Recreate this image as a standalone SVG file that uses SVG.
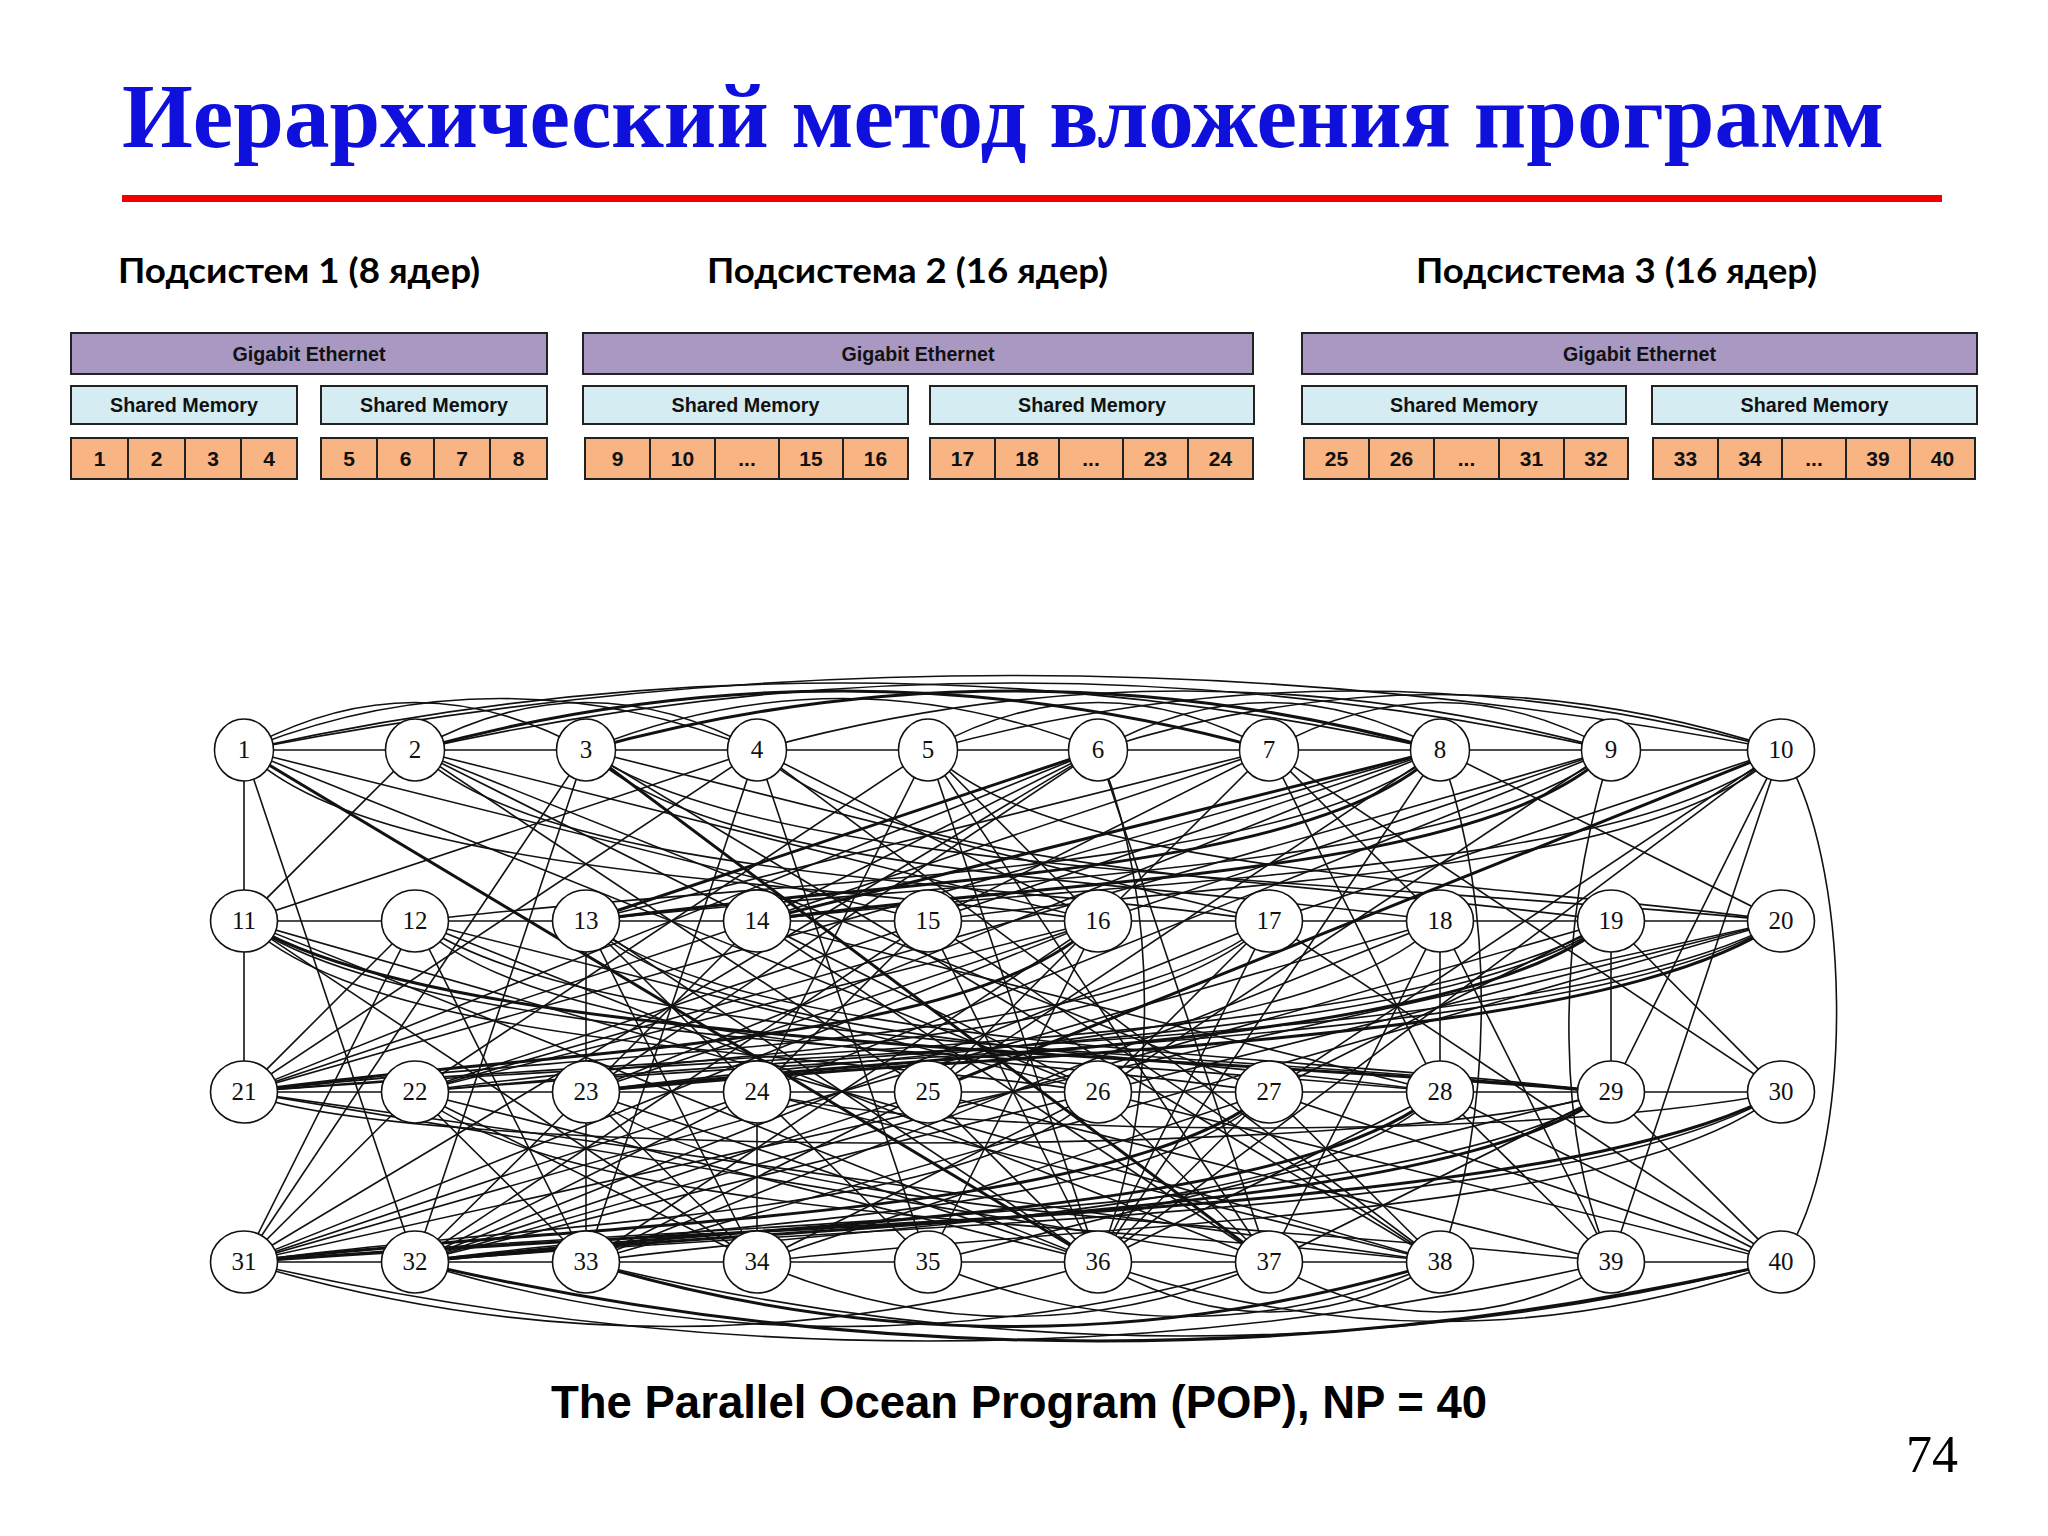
<svg xmlns="http://www.w3.org/2000/svg" width="2048" height="1536" viewBox="0 0 2048 1536">
<defs>
<style>
.title{font-family:"Liberation Serif","Times New Roman",serif;font-weight:bold;font-size:91px;fill:#1010DD}
.hdr{font-family:Lato,"Open Sans","Liberation Sans",sans-serif;font-weight:bold;font-size:35px;fill:#000}
.ge{fill:#A898C2;stroke:#222;stroke-width:2}
.sm{fill:#D5EDF2;stroke:#222;stroke-width:2}
.cell{fill:#F8B483;stroke:#222;stroke-width:2}
.bt{font-family:"Liberation Sans",Arial,sans-serif;font-weight:bold;font-size:20px;fill:#111;text-anchor:middle}
.ct{font-family:"Liberation Sans",Arial,sans-serif;font-weight:bold;font-size:21px;fill:#111;text-anchor:middle}
.e{fill:none;stroke:#111;stroke-width:1.6}
.t{fill:none;stroke:#111;stroke-width:3}
.n{fill:#fff;stroke:#111;stroke-width:1.6}
.nl{font-family:"Liberation Serif","Times New Roman",serif;font-size:25px;fill:#111;text-anchor:middle}
.cap{font-family:"Liberation Sans",Arial,sans-serif;font-weight:bold;font-size:46px;fill:#000}
.pg{font-family:"Liberation Serif","Times New Roman",serif;font-size:52px;fill:#000}
</style>
</defs>
<rect width="2048" height="1536" fill="#fff"/>

<g id="header">
<text class="title" x="122" y="147" textLength="1762" lengthAdjust="spacingAndGlyphs">Иерархический метод вложения программ</text>
<rect x="122" y="195" width="1820" height="7" fill="#F00000"/>
</g>

<g id="subsystem1">
<text class="hdr" x="118" y="283" textLength="362" lengthAdjust="spacingAndGlyphs">Подсистем 1 (8 ядер)</text>
<rect class="ge" x="71" y="333" width="476" height="41"/>
<text class="bt" x="309" y="361" textLength="153" lengthAdjust="spacingAndGlyphs">Gigabit Ethernet</text>
<rect class="sm" x="71" y="386" width="226" height="38"/>
<text class="bt" x="184" y="412" textLength="148" lengthAdjust="spacingAndGlyphs">Shared Memory</text>
<rect class="sm" x="321" y="386" width="226" height="38"/>
<text class="bt" x="434" y="412" textLength="148" lengthAdjust="spacingAndGlyphs">Shared Memory</text>
<rect class="cell" x="71" y="438" width="57" height="41"/><text class="ct" x="99.5" y="466">1</text>
<rect class="cell" x="128" y="438" width="57" height="41"/><text class="ct" x="156.5" y="466">2</text>
<rect class="cell" x="185" y="438" width="56" height="41"/><text class="ct" x="213" y="466">3</text>
<rect class="cell" x="241" y="438" width="56" height="41"/><text class="ct" x="269" y="466">4</text>
<rect class="cell" x="321" y="438" width="56" height="41"/><text class="ct" x="349" y="466">5</text>
<rect class="cell" x="377" y="438" width="57" height="41"/><text class="ct" x="405.5" y="466">6</text>
<rect class="cell" x="434" y="438" width="56" height="41"/><text class="ct" x="462" y="466">7</text>
<rect class="cell" x="490" y="438" width="57" height="41"/><text class="ct" x="518.5" y="466">8</text>
</g>

<g id="subsystem2">
<text class="hdr" x="707" y="283" textLength="401" lengthAdjust="spacingAndGlyphs">Подсистема 2 (16 ядер)</text>
<rect class="ge" x="583" y="333" width="670" height="41"/>
<text class="bt" x="918" y="361" textLength="153" lengthAdjust="spacingAndGlyphs">Gigabit Ethernet</text>
<rect class="sm" x="583" y="386" width="325" height="38"/>
<text class="bt" x="745.5" y="412" textLength="148" lengthAdjust="spacingAndGlyphs">Shared Memory</text>
<rect class="sm" x="930" y="386" width="324" height="38"/>
<text class="bt" x="1092" y="412" textLength="148" lengthAdjust="spacingAndGlyphs">Shared Memory</text>
<rect class="cell" x="585" y="438" width="65" height="41"/><text class="ct" x="617.5" y="466">9</text>
<rect class="cell" x="650" y="438" width="65" height="41"/><text class="ct" x="682.5" y="466">10</text>
<rect class="cell" x="715" y="438" width="64" height="41"/><text class="ct" x="747" y="466">...</text>
<rect class="cell" x="779" y="438" width="64" height="41"/><text class="ct" x="811" y="466">15</text>
<rect class="cell" x="843" y="438" width="65" height="41"/><text class="ct" x="875.5" y="466">16</text>
<rect class="cell" x="930" y="438" width="65" height="41"/><text class="ct" x="962.5" y="466">17</text>
<rect class="cell" x="995" y="438" width="64" height="41"/><text class="ct" x="1027" y="466">18</text>
<rect class="cell" x="1059" y="438" width="64" height="41"/><text class="ct" x="1091" y="466">...</text>
<rect class="cell" x="1123" y="438" width="65" height="41"/><text class="ct" x="1155.5" y="466">23</text>
<rect class="cell" x="1188" y="438" width="65" height="41"/><text class="ct" x="1220.5" y="466">24</text>
</g>

<g id="subsystem3">
<text class="hdr" x="1416" y="283" textLength="401" lengthAdjust="spacingAndGlyphs">Подсистема 3 (16 ядер)</text>
<rect class="ge" x="1302" y="333" width="675" height="41"/>
<text class="bt" x="1639.5" y="361" textLength="153" lengthAdjust="spacingAndGlyphs">Gigabit Ethernet</text>
<rect class="sm" x="1302" y="386" width="324" height="38"/>
<text class="bt" x="1464" y="412" textLength="148" lengthAdjust="spacingAndGlyphs">Shared Memory</text>
<rect class="sm" x="1652" y="386" width="325" height="38"/>
<text class="bt" x="1814.5" y="412" textLength="148" lengthAdjust="spacingAndGlyphs">Shared Memory</text>
<rect class="cell" x="1304" y="438" width="65" height="41"/><text class="ct" x="1336.5" y="466">25</text>
<rect class="cell" x="1369" y="438" width="65" height="41"/><text class="ct" x="1401.5" y="466">26</text>
<rect class="cell" x="1434" y="438" width="65" height="41"/><text class="ct" x="1466.5" y="466">...</text>
<rect class="cell" x="1499" y="438" width="65" height="41"/><text class="ct" x="1531.5" y="466">31</text>
<rect class="cell" x="1564" y="438" width="64" height="41"/><text class="ct" x="1596" y="466">32</text>
<rect class="cell" x="1653" y="438" width="65" height="41"/><text class="ct" x="1685.5" y="466">33</text>
<rect class="cell" x="1718" y="438" width="64" height="41"/><text class="ct" x="1750" y="466">34</text>
<rect class="cell" x="1782" y="438" width="64" height="41"/><text class="ct" x="1814" y="466">...</text>
<rect class="cell" x="1846" y="438" width="64" height="41"/><text class="ct" x="1878" y="466">39</text>
<rect class="cell" x="1910" y="438" width="65" height="41"/><text class="ct" x="1942.5" y="466">40</text>
</g>

<g id="edges">
<path class="e" d="M244 750 L1781 750"/>
<path class="e" d="M244 921 L1781 921"/>
<path class="e" d="M244 1092 L1781 1092"/>
<path class="e" d="M244 1262 L1440 1262"/>
<path class="e" d="M1611 1262 L1781 1262"/>
<path class="e" d="M244 750 L244 1092"/>
<path class="e" d="M586 921 L586 1262"/>
<path class="e" d="M757 1092 L757 1262"/>
<path class="e" d="M1440 921 L1440 1092"/>
<path class="e" d="M1611 921 L1611 1092"/>
<path class="e" d="M244 750 Q415 655 586 750"/>
<path class="e" d="M244 750 Q500 647 757 750"/>
<path class="e" d="M244 750 Q842 616 1440 750"/>
<path class="e" d="M244 750 Q1012 601 1781 750"/>
<path class="e" d="M415 750 Q586 655 757 750"/>
<path class="t" d="M415 750 Q842 632 1269 750"/>
<path class="e" d="M415 750 Q1013 616 1611 750"/>
<path class="e" d="M586 750 Q842 647 1098 750"/>
<path class="t" d="M586 750 Q1013 632 1440 750"/>
<path class="e" d="M757 750 Q1184 632 1611 750"/>
<path class="e" d="M928 750 Q1098 655 1269 750"/>
<path class="e" d="M928 750 Q1354 632 1781 750"/>
<path class="e" d="M1098 750 Q1269 655 1440 750"/>
<path class="e" d="M1098 750 Q1440 639 1781 750"/>
<path class="e" d="M1269 750 Q1440 655 1611 750"/>
<path class="e" d="M244 1262 Q671 1391 1098 1262"/>
<path class="e" d="M244 1262 Q928 1420 1611 1262"/>
<path class="e" d="M415 1262 Q842 1391 1269 1262"/>
<path class="t" d="M415 1262 Q1098 1420 1781 1262"/>
<path class="t" d="M586 1262 Q1013 1391 1440 1262"/>
<path class="e" d="M586 1262 Q1184 1410 1781 1262"/>
<path class="e" d="M757 1262 Q1013 1371 1269 1262"/>
<path class="e" d="M928 1262 Q1184 1371 1440 1262"/>
<path class="e" d="M1098 1262 Q1269 1362 1440 1262"/>
<path class="e" d="M1098 1262 Q1440 1381 1781 1262"/>
<path class="e" d="M1269 1262 Q1440 1362 1611 1262"/>
<path class="e" d="M244 750 L928 921"/>
<path class="e" d="M244 750 L415 1262"/>
<path class="t" d="M244 750 L1098 1262"/>
<path class="e" d="M244 750 L1098 1092"/>
<path class="e" d="M415 750 L244 921"/>
<path class="e" d="M415 750 L757 921"/>
<path class="e" d="M415 750 L1098 921"/>
<path class="e" d="M415 750 L928 1092"/>
<path class="e" d="M415 750 L1269 1092"/>
<path class="e" d="M586 750 L244 1262"/>
<path class="e" d="M586 750 L415 1262"/>
<path class="e" d="M586 750 L1269 921"/>
<path class="t" d="M586 750 L1269 1262"/>
<path class="e" d="M586 750 L1440 1262"/>
<path class="e" d="M757 750 L244 921"/>
<path class="e" d="M757 750 L244 1092"/>
<path class="e" d="M757 750 L586 1262"/>
<path class="e" d="M757 750 L1098 921"/>
<path class="e" d="M757 750 L928 1262"/>
<path class="e" d="M757 750 L1440 1262"/>
<path class="e" d="M928 750 L415 1092"/>
<path class="e" d="M928 750 L757 1092"/>
<path class="e" d="M928 750 L1098 1262"/>
<path class="e" d="M928 750 L1269 1262"/>
<path class="e" d="M928 750 L1098 921"/>
<path class="t" d="M1098 750 L586 921"/>
<path class="e" d="M1098 750 L757 921"/>
<path class="e" d="M1098 750 L244 1092"/>
<path class="e" d="M1098 750 L586 1092"/>
<path class="e" d="M1098 750 L244 1262"/>
<path class="e" d="M1098 750 L1269 1262"/>
<path class="e" d="M1269 750 L586 921"/>
<path class="e" d="M1269 750 L757 921"/>
<path class="e" d="M1269 750 L928 921"/>
<path class="e" d="M1269 750 L1098 921"/>
<path class="e" d="M1269 750 L1440 921"/>
<path class="e" d="M1269 750 L1440 1092"/>
<path class="e" d="M1269 750 L1781 1092"/>
<path class="t" d="M1440 750 L757 921"/>
<path class="e" d="M1440 750 L928 921"/>
<path class="e" d="M1440 750 L1781 921"/>
<path class="e" d="M1440 750 L244 1092"/>
<path class="e" d="M1440 750 L586 1092"/>
<path class="e" d="M1440 750 L928 1092"/>
<path class="e" d="M1440 750 L1098 1262"/>
<path class="e" d="M1611 750 L1098 921"/>
<path class="e" d="M1611 750 L415 1092"/>
<path class="e" d="M1611 750 L757 1092"/>
<path class="e" d="M1611 750 L1098 1092"/>
<path class="e" d="M1781 750 L1269 921"/>
<path class="t" d="M1781 750 L928 1092"/>
<path class="e" d="M1781 750 L1269 1092"/>
<path class="e" d="M1781 750 L1611 1092"/>
<path class="e" d="M1781 750 L1098 1262"/>
<path class="e" d="M1781 750 L1611 1262"/>
<path class="e" d="M244 921 L757 1262"/>
<path class="e" d="M244 921 L1098 1262"/>
<path class="e" d="M244 921 L1440 1262"/>
<path class="e" d="M415 921 L244 1092"/>
<path class="e" d="M415 921 L1098 1092"/>
<path class="e" d="M415 921 L586 1262"/>
<path class="e" d="M415 921 L1269 1262"/>
<path class="e" d="M415 921 L244 1262"/>
<path class="e" d="M586 921 L757 1092"/>
<path class="e" d="M586 921 L1098 1262"/>
<path class="e" d="M586 921 L757 1262"/>
<path class="e" d="M757 921 L244 1092"/>
<path class="e" d="M757 921 L586 1092"/>
<path class="e" d="M757 921 L1098 1092"/>
<path class="e" d="M757 921 L1440 1092"/>
<path class="e" d="M757 921 L1269 1262"/>
<path class="e" d="M928 921 L415 1092"/>
<path class="e" d="M928 921 L757 1092"/>
<path class="e" d="M928 921 L415 1262"/>
<path class="e" d="M928 921 L1098 1262"/>
<path class="e" d="M928 921 L1440 1262"/>
<path class="e" d="M1098 921 L415 1092"/>
<path class="e" d="M1098 921 L586 1092"/>
<path class="e" d="M1098 921 L928 1092"/>
<path class="e" d="M1098 921 L244 1262"/>
<path class="e" d="M1098 921 L586 1262"/>
<path class="e" d="M1098 921 L928 1262"/>
<path class="e" d="M1269 921 L1098 1092"/>
<path class="e" d="M1269 921 L415 1262"/>
<path class="e" d="M1269 921 L1098 1262"/>
<path class="e" d="M1269 921 L1781 1262"/>
<path class="e" d="M1440 921 L244 1262"/>
<path class="e" d="M1440 921 L586 1262"/>
<path class="e" d="M1440 921 L1269 1262"/>
<path class="e" d="M1440 921 L1611 1262"/>
<path class="e" d="M1611 921 L1269 1092"/>
<path class="e" d="M1611 921 L1781 1092"/>
<path class="e" d="M1611 921 L415 1262"/>
<path class="e" d="M1781 921 L1098 1092"/>
<path class="e" d="M1781 921 L244 1262"/>
<path class="e" d="M1781 921 L586 1262"/>
<path class="e" d="M244 1092 L1269 1262"/>
<path class="e" d="M244 1092 L1440 1262"/>
<path class="e" d="M415 1092 L244 1262"/>
<path class="e" d="M415 1092 L586 1262"/>
<path class="e" d="M415 1092 L757 1262"/>
<path class="e" d="M415 1092 L1098 1262"/>
<path class="e" d="M586 1092 L415 1262"/>
<path class="e" d="M586 1092 L757 1262"/>
<path class="e" d="M586 1092 L1098 1262"/>
<path class="e" d="M757 1092 L244 1262"/>
<path class="e" d="M757 1092 L415 1262"/>
<path class="e" d="M757 1092 L928 1262"/>
<path class="e" d="M757 1092 L1440 1262"/>
<path class="e" d="M928 1092 L415 1262"/>
<path class="e" d="M928 1092 L586 1262"/>
<path class="e" d="M928 1092 L1098 1262"/>
<path class="e" d="M928 1092 L1611 1262"/>
<path class="e" d="M1098 1092 L415 1262"/>
<path class="e" d="M1098 1092 L757 1262"/>
<path class="e" d="M1098 1092 L1269 1262"/>
<path class="e" d="M1098 1092 L1781 1262"/>
<path class="e" d="M1269 1092 L757 1262"/>
<path class="e" d="M1269 1092 L1098 1262"/>
<path class="e" d="M1269 1092 L1440 1262"/>
<path class="e" d="M1269 1092 L1781 1262"/>
<path class="e" d="M1440 1092 L1098 1262"/>
<path class="e" d="M1440 1092 L1611 1262"/>
<path class="e" d="M1440 1092 L1781 1262"/>
<path class="e" d="M1611 1092 L928 1262"/>
<path class="e" d="M1611 1092 L1269 1262"/>
<path class="e" d="M1611 1092 L1781 1262"/>
<path class="e" d="M244 750 C372 878 799 878 1098 921"/>
<path class="e" d="M415 750 C543 878 970 878 1269 921"/>
<path class="e" d="M586 750 C714 878 1141 878 1440 921"/>
<path class="e" d="M586 750 C765 878 1363 878 1781 921"/>
<path class="e" d="M757 750 C885 878 1312 878 1611 921"/>
<path class="e" d="M928 750 C1056 878 1482 878 1781 921"/>
<path class="e" d="M1440 750 C1286 878 774 878 415 921"/>
<path class="t" d="M1440 750 C1312 878 885 878 586 921"/>
<path class="e" d="M1611 750 C1457 878 945 878 586 921"/>
<path class="t" d="M1611 750 C1483 878 1056 878 757 921"/>
<path class="e" d="M1781 750 C1627 878 1115 878 757 921"/>
<path class="e" d="M1781 750 C1653 878 1227 878 928 921"/>
<path class="e" d="M244 921 C372 1049 799 1049 1098 1092"/>
<path class="e" d="M244 921 C423 1049 1021 1049 1440 1092"/>
<path class="t" d="M244 921 C449 1049 1133 1049 1611 1092"/>
<path class="e" d="M415 921 C543 1049 970 1049 1269 1092"/>
<path class="e" d="M415 921 C594 1049 1192 1049 1611 1092"/>
<path class="e" d="M586 921 C714 1049 1141 1049 1440 1092"/>
<path class="e" d="M586 921 C740 1049 1252 1049 1611 1092"/>
<path class="t" d="M1098 921 C970 1049 543 1049 244 1092"/>
<path class="e" d="M1269 921 C1115 1049 603 1049 244 1092"/>
<path class="e" d="M1269 921 C1141 1049 714 1049 415 1092"/>
<path class="e" d="M1440 921 C1312 1049 885 1049 586 1092"/>
<path class="e" d="M1611 921 C1406 1049 722 1049 244 1092"/>
<path class="e" d="M1611 921 C1432 1049 834 1049 415 1092"/>
<path class="t" d="M1611 921 C1457 1049 945 1049 586 1092"/>
<path class="e" d="M1781 921 C1550 1049 782 1049 244 1092"/>
<path class="e" d="M1781 921 C1576 1049 893 1049 415 1092"/>
<path class="t" d="M1781 921 C1602 1049 1004 1049 586 1092"/>
<path class="e" d="M415 1092 C569 1220 1081 1220 1440 1262"/>
<path class="e" d="M586 1092 C740 1220 1252 1220 1611 1262"/>
<path class="e" d="M1098 1092 C970 1220 543 1220 244 1262"/>
<path class="t" d="M1269 1092 C1115 1220 603 1220 244 1262"/>
<path class="e" d="M1269 1092 C1141 1220 714 1220 415 1262"/>
<path class="t" d="M1440 1092 C1286 1220 774 1220 415 1262"/>
<path class="e" d="M1440 1092 C1312 1220 885 1220 586 1262"/>
<path class="e" d="M1611 1092 C1406 1220 722 1220 244 1262"/>
<path class="t" d="M1611 1092 C1432 1220 834 1220 415 1262"/>
<path class="t" d="M1781 1092 C1550 1220 782 1220 244 1262"/>
<path class="e" d="M1781 1092 C1576 1220 893 1220 415 1262"/>
<path class="e" d="M1781 1092 C1627 1220 1115 1220 757 1262"/>
<path class="e" d="M1098 750 C1160 900 1160 1110 1098 1262"/>
<path class="e" d="M1440 750 C1500 920 1490 1120 1440 1262"/>
<path class="e" d="M1611 750 C1550 950 1560 1150 1611 1262"/>
<path class="e" d="M1781 750 C1850 850 1860 1150 1781 1262"/>
<path class="e" d="M244 1092 C400 1160 1400 1160 1611 1092"/>
<path class="e" d="M757 1092 C950 1140 1550 1140 1781 1092"/>
</g>

<g id="node1"><ellipse class="n" cx="244" cy="750" rx="29.5" ry="31"/><text class="nl" x="244" y="758">1</text></g>
<g id="node2"><ellipse class="n" cx="415" cy="750" rx="29.5" ry="31"/><text class="nl" x="415" y="758">2</text></g>
<g id="node3"><ellipse class="n" cx="586" cy="750" rx="29.5" ry="31"/><text class="nl" x="586" y="758">3</text></g>
<g id="node4"><ellipse class="n" cx="757" cy="750" rx="29.5" ry="31"/><text class="nl" x="757" y="758">4</text></g>
<g id="node5"><ellipse class="n" cx="928" cy="750" rx="29.5" ry="31"/><text class="nl" x="928" y="758">5</text></g>
<g id="node6"><ellipse class="n" cx="1098" cy="750" rx="29.5" ry="31"/><text class="nl" x="1098" y="758">6</text></g>
<g id="node7"><ellipse class="n" cx="1269" cy="750" rx="29.5" ry="31"/><text class="nl" x="1269" y="758">7</text></g>
<g id="node8"><ellipse class="n" cx="1440" cy="750" rx="29.5" ry="31"/><text class="nl" x="1440" y="758">8</text></g>
<g id="node9"><ellipse class="n" cx="1611" cy="750" rx="29.5" ry="31"/><text class="nl" x="1611" y="758">9</text></g>
<g id="node10"><ellipse class="n" cx="1781" cy="750" rx="33.5" ry="31"/><text class="nl" x="1781" y="758">10</text></g>
<g id="node11"><ellipse class="n" cx="244" cy="921" rx="33.5" ry="31"/><text class="nl" x="244" y="929">11</text></g>
<g id="node12"><ellipse class="n" cx="415" cy="921" rx="33.5" ry="31"/><text class="nl" x="415" y="929">12</text></g>
<g id="node13"><ellipse class="n" cx="586" cy="921" rx="33.5" ry="31"/><text class="nl" x="586" y="929">13</text></g>
<g id="node14"><ellipse class="n" cx="757" cy="921" rx="33.5" ry="31"/><text class="nl" x="757" y="929">14</text></g>
<g id="node15"><ellipse class="n" cx="928" cy="921" rx="33.5" ry="31"/><text class="nl" x="928" y="929">15</text></g>
<g id="node16"><ellipse class="n" cx="1098" cy="921" rx="33.5" ry="31"/><text class="nl" x="1098" y="929">16</text></g>
<g id="node17"><ellipse class="n" cx="1269" cy="921" rx="33.5" ry="31"/><text class="nl" x="1269" y="929">17</text></g>
<g id="node18"><ellipse class="n" cx="1440" cy="921" rx="33.5" ry="31"/><text class="nl" x="1440" y="929">18</text></g>
<g id="node19"><ellipse class="n" cx="1611" cy="921" rx="33.5" ry="31"/><text class="nl" x="1611" y="929">19</text></g>
<g id="node20"><ellipse class="n" cx="1781" cy="921" rx="33.5" ry="31"/><text class="nl" x="1781" y="929">20</text></g>
<g id="node21"><ellipse class="n" cx="244" cy="1092" rx="33.5" ry="31"/><text class="nl" x="244" y="1100">21</text></g>
<g id="node22"><ellipse class="n" cx="415" cy="1092" rx="33.5" ry="31"/><text class="nl" x="415" y="1100">22</text></g>
<g id="node23"><ellipse class="n" cx="586" cy="1092" rx="33.5" ry="31"/><text class="nl" x="586" y="1100">23</text></g>
<g id="node24"><ellipse class="n" cx="757" cy="1092" rx="33.5" ry="31"/><text class="nl" x="757" y="1100">24</text></g>
<g id="node25"><ellipse class="n" cx="928" cy="1092" rx="33.5" ry="31"/><text class="nl" x="928" y="1100">25</text></g>
<g id="node26"><ellipse class="n" cx="1098" cy="1092" rx="33.5" ry="31"/><text class="nl" x="1098" y="1100">26</text></g>
<g id="node27"><ellipse class="n" cx="1269" cy="1092" rx="33.5" ry="31"/><text class="nl" x="1269" y="1100">27</text></g>
<g id="node28"><ellipse class="n" cx="1440" cy="1092" rx="33.5" ry="31"/><text class="nl" x="1440" y="1100">28</text></g>
<g id="node29"><ellipse class="n" cx="1611" cy="1092" rx="33.5" ry="31"/><text class="nl" x="1611" y="1100">29</text></g>
<g id="node30"><ellipse class="n" cx="1781" cy="1092" rx="33.5" ry="31"/><text class="nl" x="1781" y="1100">30</text></g>
<g id="node31"><ellipse class="n" cx="244" cy="1262" rx="33.5" ry="31"/><text class="nl" x="244" y="1270">31</text></g>
<g id="node32"><ellipse class="n" cx="415" cy="1262" rx="33.5" ry="31"/><text class="nl" x="415" y="1270">32</text></g>
<g id="node33"><ellipse class="n" cx="586" cy="1262" rx="33.5" ry="31"/><text class="nl" x="586" y="1270">33</text></g>
<g id="node34"><ellipse class="n" cx="757" cy="1262" rx="33.5" ry="31"/><text class="nl" x="757" y="1270">34</text></g>
<g id="node35"><ellipse class="n" cx="928" cy="1262" rx="33.5" ry="31"/><text class="nl" x="928" y="1270">35</text></g>
<g id="node36"><ellipse class="n" cx="1098" cy="1262" rx="33.5" ry="31"/><text class="nl" x="1098" y="1270">36</text></g>
<g id="node37"><ellipse class="n" cx="1269" cy="1262" rx="33.5" ry="31"/><text class="nl" x="1269" y="1270">37</text></g>
<g id="node38"><ellipse class="n" cx="1440" cy="1262" rx="33.5" ry="31"/><text class="nl" x="1440" y="1270">38</text></g>
<g id="node39"><ellipse class="n" cx="1611" cy="1262" rx="33.5" ry="31"/><text class="nl" x="1611" y="1270">39</text></g>
<g id="node40"><ellipse class="n" cx="1781" cy="1262" rx="33.5" ry="31"/><text class="nl" x="1781" y="1270">40</text></g>

<g id="caption">
<text class="cap" x="551" y="1418" textLength="936" lengthAdjust="spacingAndGlyphs">The Parallel Ocean Program (POP), NP = 40</text>
<text class="pg" x="1906" y="1472">74</text>
</g>
</svg>
